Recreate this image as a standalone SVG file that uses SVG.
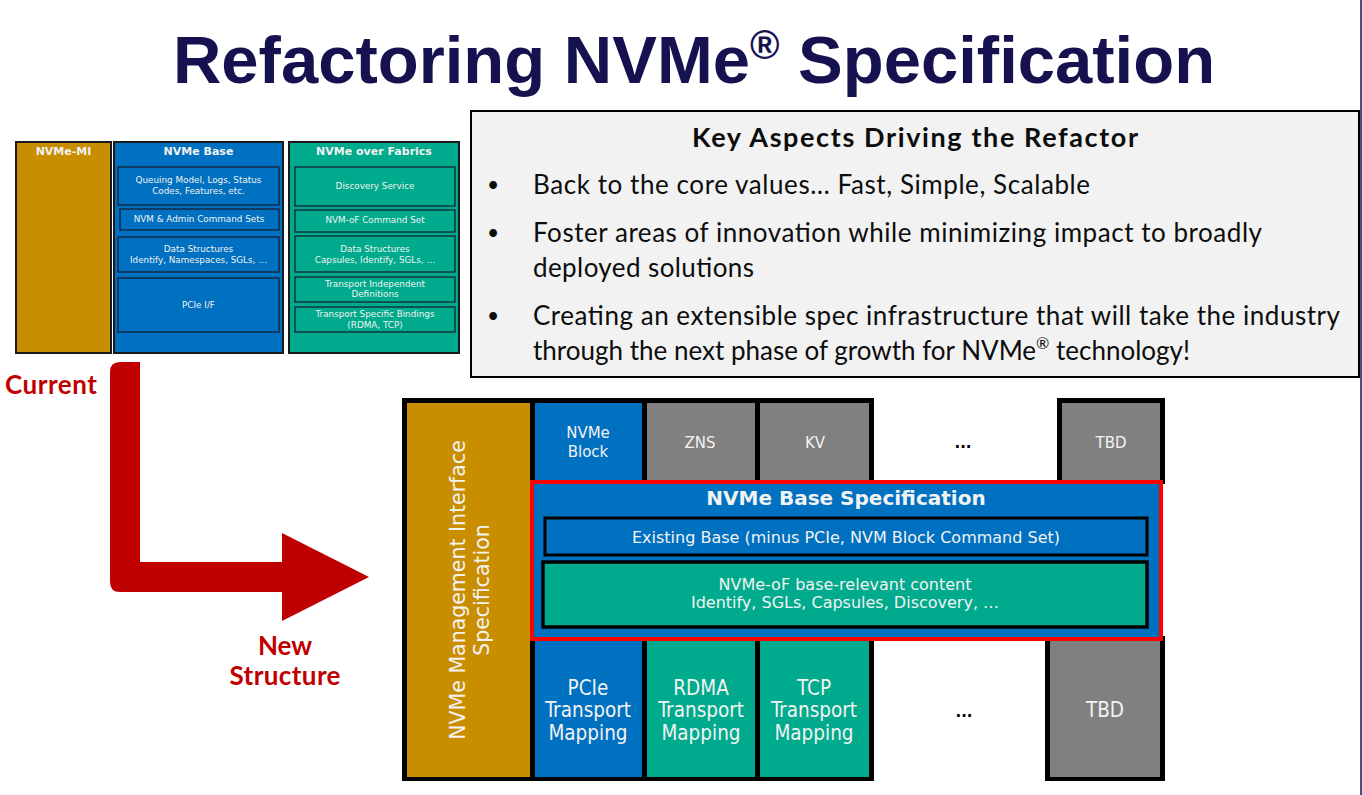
<svg xmlns="http://www.w3.org/2000/svg" width="1362" height="795" viewBox="0 0 1362 795">
<style>
.bg{fill:#ffffff}
.gold{fill:#C98E00}
.blue{fill:#0070C0}
.teal{fill:#00AA8C}
.gray{fill:#808080}
.blk{fill:#000000}
.panel{stroke:#1a1a1a;stroke-width:2}
.inner{stroke:#1a1a2a;stroke-width:1.2}
.sm{font-family:"DejaVu Sans",Verdana,sans-serif;font-size:8.8px;fill:#F2F2F2;text-anchor:middle}
.smh{font-family:"DejaVu Sans",Verdana,sans-serif;font-size:11px;font-weight:bold;fill:#F2F2F2;text-anchor:middle}
.col{font-family:"DejaVu Sans",Verdana,sans-serif;font-size:15px;fill:#F2F2F2;text-anchor:middle}
.vert{font-family:"DejaVu Sans",Verdana,sans-serif;font-size:20.5px;fill:#F2F2F2;text-anchor:middle}
.mid{font-family:"DejaVu Sans",Verdana,sans-serif;font-size:16px;fill:#F2F2F2;text-anchor:middle}
.cond{font-family:"DejaVu Sans Condensed","DejaVu Sans",sans-serif;font-stretch:condensed;font-size:20.5px;fill:#F2F2F2;text-anchor:middle}
.key{font-family:Lato,"Open Sans",sans-serif;font-size:26px;fill:#0D0D0D}
.bul{font-family:Lato,"Open Sans",sans-serif;font-size:21px;fill:#0D0D0D}
.keyh{font-family:Lato,"Open Sans",sans-serif;font-size:27px;font-weight:bold;fill:#0D0D0D;text-anchor:middle}
.red{font-family:Lato,"Open Sans",sans-serif;font-size:26px;font-weight:bold;fill:#C00000;text-anchor:middle}
.dots{font-family:"DejaVu Sans",sans-serif;font-weight:bold;font-size:15px;fill:#000;text-anchor:middle}
</style>
<rect class="bg" x="0" y="0" width="1362" height="795"/>

<g id="title">
<text x="694" y="83" text-anchor="middle" font-family="'Liberation Sans',Arial,sans-serif" font-weight="bold" font-size="67" fill="#16114F">Refactoring NVMe<tspan font-size="40" dy="-24">®</tspan><tspan dy="24"> Specification</tspan></text>
</g>

<line x1="1361" y1="0" x2="1361" y2="795" stroke="#1A1450" stroke-width="1.5"/>

<!-- Current structure -->
<g id="current-nvme-mi">
<rect class="gold panel" x="16" y="142" width="95" height="211"/>
<text class="smh" x="63.5" y="155">NVMe-MI</text>
</g>
<g id="current-nvme-base">
<rect class="blue panel" x="114" y="142" width="169" height="211"/>
<text class="smh" x="198.5" y="155">NVMe Base</text>
<rect class="blue inner" x="118" y="167" width="161" height="38"/>
<text class="sm" x="198.5" y="183">Queuing Model, Logs, Status</text>
<text class="sm" x="198.5" y="194">Codes, Features, etc.</text>
<rect class="blue inner" x="120" y="209" width="159" height="21"/>
<text class="sm" x="199" y="222">NVM &amp; Admin Command Sets</text>
<rect class="blue inner" x="118" y="237" width="161" height="35"/>
<text class="sm" x="198.5" y="252">Data Structures</text>
<text class="sm" x="198.5" y="263">Identify, Namespaces, SGLs, …</text>
<rect class="blue inner" x="118" y="278" width="161" height="54"/>
<text class="sm" x="198.5" y="308">PCIe I/F</text>
</g>
<g id="current-nvme-of">
<rect class="teal panel" x="289" y="142" width="170" height="211"/>
<text class="smh" x="374" y="155">NVMe over Fabrics</text>
<rect class="teal inner" x="295" y="167" width="160" height="39"/>
<text class="sm" x="375" y="189">Discovery Service</text>
<rect class="teal inner" x="295" y="210" width="160" height="22"/>
<text class="sm" x="375" y="223">NVM-oF Command Set</text>
<rect class="teal inner" x="295" y="236" width="160" height="36"/>
<text class="sm" x="375" y="252">Data Structures</text>
<text class="sm" x="375" y="263">Capsules, Identify, SGLs, …</text>
<rect class="teal inner" x="295" y="277" width="160" height="25"/>
<text class="sm" x="375" y="287">Transport Independent</text>
<text class="sm" x="375" y="297">Definitions</text>
<rect class="teal inner" x="295" y="307" width="160" height="25"/>
<text class="sm" x="375" y="317">Transport Specific Bindings</text>
<text class="sm" x="375" y="328">(RDMA, TCP)</text>
</g>

<!-- Key aspects box -->
<g id="key-aspects">
<rect x="471" y="111" width="888" height="266" fill="#F2F2F2" stroke="#000" stroke-width="2"/>
<text class="keyh" x="915" y="147" textLength="446">Key Aspects Driving the Refactor</text>
<text class="bul" x="487" y="192">•</text>
<text class="key" x="533" y="194" textLength="557">Back to the core values… Fast, Simple, Scalable</text>
<text class="bul" x="487" y="240">•</text>
<text class="key" x="533" y="242" textLength="729">Foster areas of innovation while minimizing impact to broadly</text>
<text class="key" x="533" y="277" textLength="221">deployed solutions</text>
<text class="bul" x="487" y="323">•</text>
<text class="key" x="533" y="325" textLength="807">Creating an extensible spec infrastructure that will take the industry</text>
<text class="key" x="533" y="360">through the next phase of growth for NVMe<tspan font-size="16" dy="-11">®</tspan><tspan dy="11"> technology!</tspan></text>
</g>

<!-- Arrow -->
<g id="connectors">
<path d="M140 362 L140 562 L282 562 L282 533 L369 577 L282 621 L282 592 L120 592 Q110 592 110 582 L110 372 Q110 362 120 362 Z" fill="#C00000"/>
</g>
<g id="label-current"><text class="red" x="51" y="394" textLength="92">Current</text></g>
<g id="label-new"><text class="red" x="285" y="655" textLength="54">New</text><text class="red" x="285" y="685" textLength="111">Structure</text></g>

<!-- New structure -->
<g id="frame">
<rect class="blk" x="402" y="398" width="472" height="383"/>
<rect class="blk" x="1057" y="398" width="108" height="86"/>
<rect class="blk" x="1045" y="636" width="120" height="145"/>
</g>
<g id="nvme-mi-spec">
<rect class="gold" x="407" y="403" width="123" height="374"/>
<text class="vert" transform="translate(465 590) rotate(-90)" x="0" y="0">NVMe Management Interface</text>
<text class="vert" transform="translate(489 590) rotate(-90)" x="0" y="0">Specification</text>
</g>
<g id="nvme-block">
<rect class="blue" x="535" y="403" width="107" height="80"/>
<text class="col" x="588" y="438">NVMe</text>
<text class="col" x="588" y="457">Block</text>
</g>
<g id="zns">
<rect class="gray" x="647" y="403" width="108" height="80"/>
<text class="col" x="700" y="448">ZNS</text>
</g>
<g id="kv">
<rect class="gray" x="760" y="403" width="109" height="80"/>
<text class="col" x="815" y="448">KV</text>
</g>
<g id="dots-top"><text class="dots" x="963" y="448">...</text></g>
<g id="tbd-top">
<rect class="gray" x="1062" y="403" width="98" height="80"/>
<text class="col" x="1111" y="448">TBD</text>
</g>

<g id="pcie-transport">
<rect class="blue" x="535" y="636" width="107" height="141"/>
<text class="cond" x="588" y="695">PCIe</text>
<text class="cond" x="588" y="717">Transport</text>
<text class="cond" x="588" y="740">Mapping</text>
</g>
<g id="rdma-transport">
<rect class="teal" x="647" y="636" width="108" height="141"/>
<text class="cond" x="701" y="695">RDMA</text>
<text class="cond" x="701" y="717">Transport</text>
<text class="cond" x="701" y="740">Mapping</text>
</g>
<g id="tcp-transport">
<rect class="teal" x="760" y="636" width="109" height="141"/>
<text class="cond" x="814" y="695">TCP</text>
<text class="cond" x="814" y="717">Transport</text>
<text class="cond" x="814" y="740">Mapping</text>
</g>
<g id="dots-bottom"><text class="dots" x="964" y="717">...</text></g>
<g id="tbd-bottom">
<rect class="gray" x="1050" y="636" width="110" height="141"/>
<text class="cond" x="1105" y="717">TBD</text>
</g>

<g id="nvme-base-spec">
<rect x="532" y="482" width="629" height="157" fill="#0070C0" stroke="#FF0000" stroke-width="4"/>
<text x="846" y="505" text-anchor="middle" font-family="'DejaVu Sans',sans-serif" font-weight="bold" font-size="20" fill="#F2F2F2">NVMe Base Specification</text>
<rect x="545" y="518" width="602" height="37" fill="#0070C0" stroke="#000" stroke-width="3"/>
<text class="mid" x="846" y="543">Existing Base (minus PCIe, NVM Block Command Set)</text>
<rect x="543" y="562" width="604" height="65" fill="#00AA8C" stroke="#000" stroke-width="3.5"/>
<text class="mid" x="845" y="590">NVMe-oF base-relevant content</text>
<text class="mid" x="845" y="608">Identify, SGLs, Capsules, Discovery, …</text>
</g>
</svg>
